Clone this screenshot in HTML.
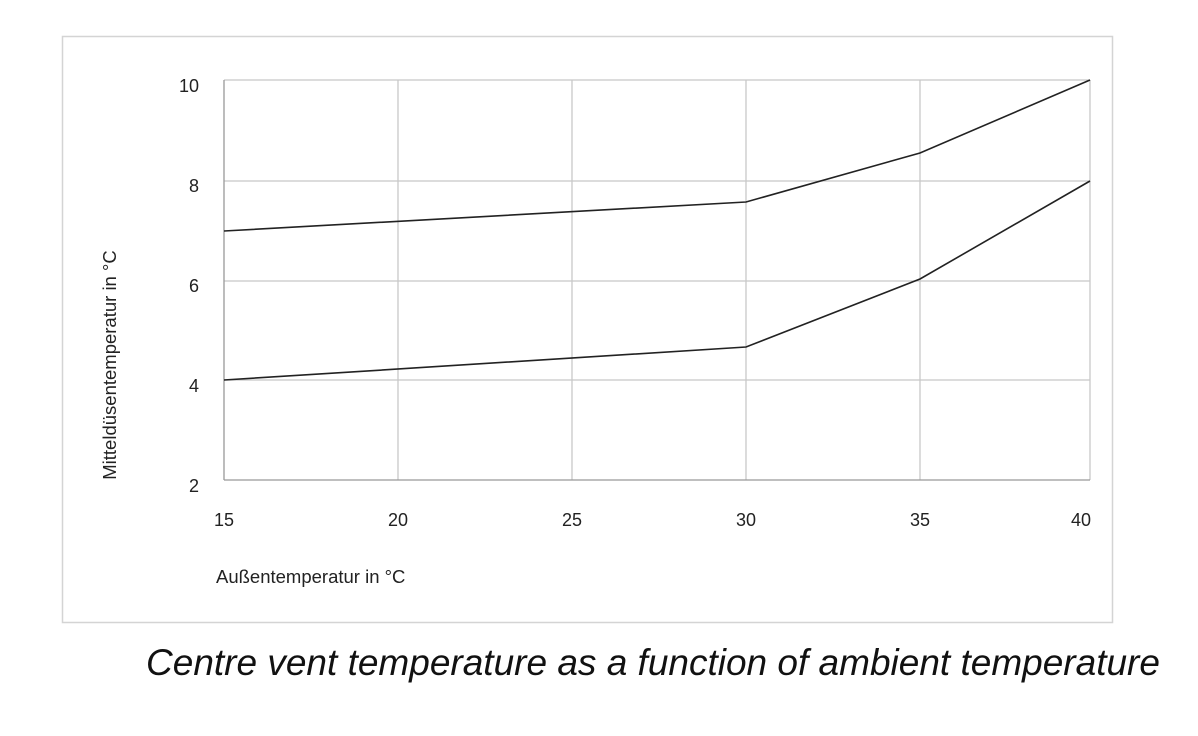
<!DOCTYPE html>
<html><head><meta charset="utf-8"><style>
html,body{margin:0;padding:0;background:#fff;width:1198px;height:736px;overflow:hidden}
svg{display:block}
text{font-family:"Liberation Sans",Arial,sans-serif;fill:#222}
</style></head><body>
<svg width="1198" height="736" viewBox="0 0 1198 736">
<rect x="62.5" y="36.5" width="1050" height="586" fill="none" stroke="#d4d4d4" stroke-width="1.5"/>
<g stroke="#c8c8c8" stroke-width="1.3">
<line x1="224" y1="80" x2="1090" y2="80"/>
<line x1="224" y1="181" x2="1090" y2="181"/>
<line x1="224" y1="281" x2="1090" y2="281"/>
<line x1="224" y1="380" x2="1090" y2="380"/>
<line x1="398" y1="80" x2="398" y2="480"/>
<line x1="572" y1="80" x2="572" y2="480"/>
<line x1="746" y1="80" x2="746" y2="480"/>
<line x1="920" y1="80" x2="920" y2="480"/>
<line x1="1090" y1="80" x2="1090" y2="480"/>
</g>
<g stroke="#999" stroke-width="1.3">
<line x1="224" y1="80" x2="224" y2="480"/>
<line x1="224" y1="480" x2="1090" y2="480"/>
</g>
<g fill="none" stroke="#222" stroke-width="1.6">
<polyline points="224,231 746,202 920,153 1090,80"/>
<polyline points="224,380 746,347 920,279 1090,181"/>
</g>
<g font-size="18" text-anchor="end">
<text x="199" y="92">10</text>
<text x="199" y="192">8</text>
<text x="199" y="292">6</text>
<text x="199" y="392">4</text>
<text x="199" y="492">2</text>
</g>
<g font-size="18" text-anchor="middle">
<text x="224" y="526">15</text>
<text x="398" y="526">20</text>
<text x="572" y="526">25</text>
<text x="746" y="526">30</text>
<text x="920" y="526">35</text>
<text x="1081" y="526">40</text>
</g>
<text x="216" y="583" font-size="18.5">Außentemperatur in °C</text>
<text transform="translate(116,365) rotate(-90)" font-size="18.5" text-anchor="middle">Mitteldüsentemperatur in °C</text>
<text x="653" y="675" font-size="37" font-style="italic" text-anchor="middle" style="fill:#111">Centre vent temperature as a function of ambient temperature</text>
</svg>
</body></html>
